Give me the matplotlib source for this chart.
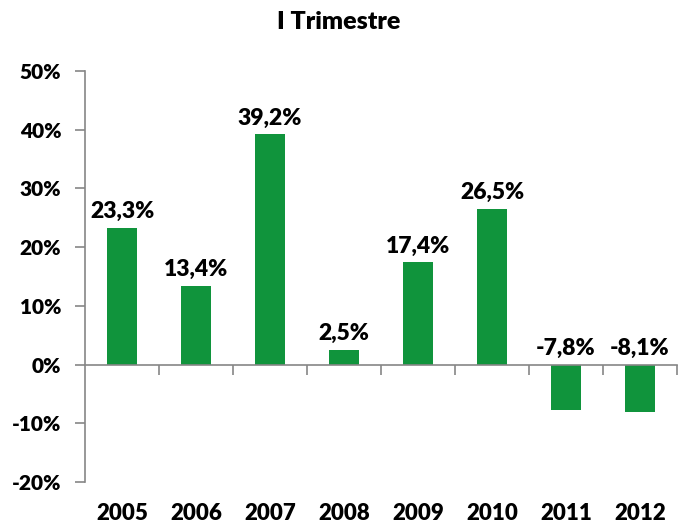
import numpy as np
import matplotlib
matplotlib.use("Agg")
import matplotlib.pyplot as plt
from matplotlib.ticker import FuncFormatter, FixedLocator
import matplotlib.transforms as mtransforms

# data
years = ['2005', '2006', '2007', '2008', '2009', '2010', '2011', '2012']
growth = [23.3, 13.4, 39.2, 2.5, 17.4, 26.5, -7.8, -8.1]
title = 'I Trimestre'

W = 'heavy'
plt.rcParams['font.family'] = ['Lato', 'DejaVu Sans']
plt.rcParams['font.weight'] = W

fig = plt.figure(figsize=(6.78, 5.26), dpi=100)
ax = fig.add_axes([0.1254, 0.0837, 0.873, 0.7813])

x = np.arange(len(years))
ax.bar(x, growth, width=0.41, color='#10943C', zorder=2)

# data labels sit above the bar, or above the zero line for negatives
for xi, v in zip(x, growth):
    y = max(v, 0) + 1.0
    ax.text(xi, y, f'{v:.1f}%'.replace('.', ','), ha='center', va='bottom',
            fontsize=16.5, fontweight=W, color='black')

ax.set_xlim(-0.5, len(years) - 0.5)
ax.set_ylim(-20, 50)
ax.set_yticks(np.arange(-20, 51, 10))
ax.yaxis.set_major_formatter(FuncFormatter(lambda v, p: f'{v:.0f}%'))
ax.tick_params(axis='y', length=7, width=1.2, color='#868686', pad=10,
               labelsize=15, labelcolor='black')
for lab in ax.get_yticklabels():
    lab.set_fontweight(W)

# category axis drawn at zero, boundary ticks pointing down
ax.spines['bottom'].set_position(('data', 0))
ax.xaxis.set_major_locator(FixedLocator(np.arange(0.5, len(years), 1.0)))
ax.tick_params(axis='x', length=7, width=1.2, color='#868686', labelbottom=False)

for s in ['top', 'right']:
    ax.spines[s].set_visible(False)
for s in ['left', 'bottom']:
    ax.spines[s].set_color('#868686')
    ax.spines[s].set_linewidth(1.2)

# year labels under the plot area
trans = mtransforms.blended_transform_factory(ax.transData, ax.transAxes)
for xi, yr in zip(x, years):
    ax.text(xi, -0.05, yr, transform=trans, ha='center', va='top',
            fontsize=16, fontweight=W)

fig.text(0.5, 0.958, title, ha='center', va='center', fontsize=18,
         fontweight=W)

fig.savefig('out.png', dpi=100)
